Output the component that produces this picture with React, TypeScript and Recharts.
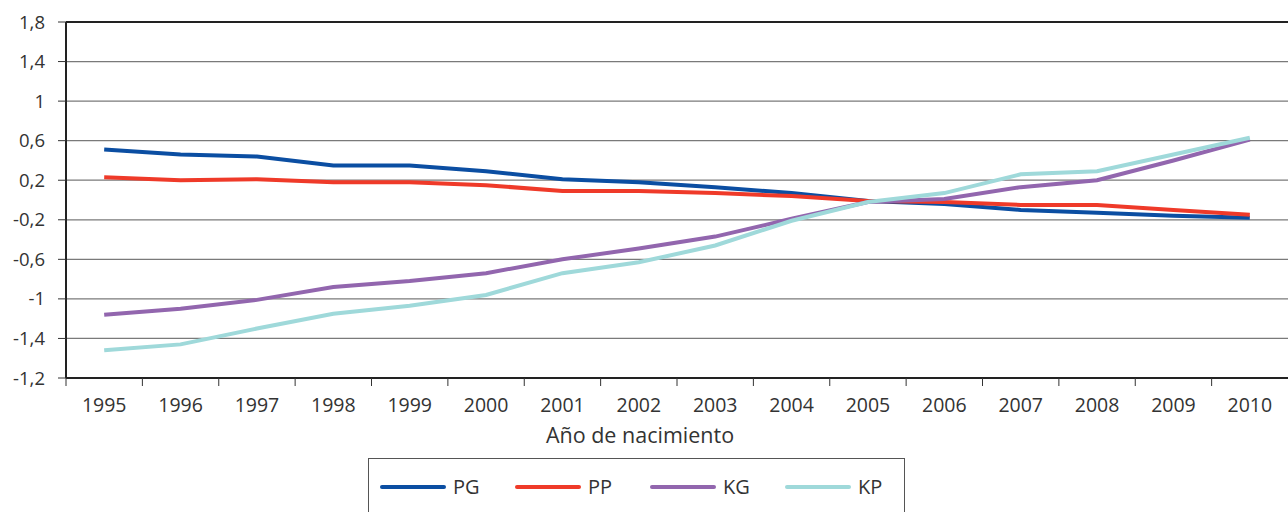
import { LineChart, Line, XAxis, YAxis, CartesianGrid, ReferenceLine } from 'recharts'

const YEARS = [1995, 1996, 1997, 1998, 1999, 2000, 2001, 2002, 2003, 2004, 2005, 2006, 2007, 2008, 2009, 2010]

const PG = [0.51, 0.46, 0.44, 0.35, 0.35, 0.29, 0.21, 0.18, 0.13, 0.07, -0.01, -0.04, -0.1, -0.13, -0.16, -0.18]
const PP = [0.23, 0.2, 0.21, 0.18, 0.18, 0.15, 0.09, 0.09, 0.07, 0.04, -0.01, -0.02, -0.05, -0.05, -0.1, -0.15]
const KG = [-1.16, -1.1, -1.01, -0.88, -0.82, -0.74, -0.6, -0.49, -0.37, -0.19, -0.02, 0.01, 0.13, 0.2, 0.4, 0.61]
const KP = [-1.52, -1.46, -1.3, -1.15, -1.07, -0.96, -0.74, -0.63, -0.46, -0.21, -0.02, 0.07, 0.26, 0.29, 0.46, 0.63]

const Y_TICKS = [1.8, 1.4, 1, 0.6, 0.2, -0.2, -0.6, -1, -1.4, -1.8]
const Y_LABELS = ['1,8', '1,4', '1', '0,6', '0,2', '-0,2', '-0,6', '-1', '-1,4', '-1,2']

const SERIES = [
  { key: 'PG', values: PG, color: '#0b4ea2' },
  { key: 'PP', values: PP, color: '#ef3a29' },
  { key: 'KG', values: KG, color: '#9266ae' },
  { key: 'KP', values: KP, color: '#9fd9da' },
]

const data = YEARS.map((year, i) => {
  const row: Record<string, number> = { year }
  SERIES.forEach(s => { row[s.key] = s.values[i] })
  return row
})

// labels on the years, tick marks on the boundaries between them
const X_TICKS = YEARS.flatMap(y => [y - 0.5, y])

const FONT = '"Open Sans", "Noto Sans", sans-serif'
const TEXT = '#333333'

function XTick(props: any) {
  const { x, y, payload } = props
  const v = payload.value
  if (Number.isInteger(v)) {
    return (
      <text x={x} y={y + 34} textAnchor="middle" fontSize={19.5} fill={TEXT} fontFamily={FONT}>
        {v}
      </text>
    )
  }
  return <line x1={x} y1={y} x2={x} y2={y + 8} stroke="#333" strokeWidth={1} />
}

export default function App() {
  return (
    <div style={{ position: 'relative', width: 1288, height: 512, overflow: 'hidden', fontFamily: FONT }}>
      <style>{'body { margin: 0; }'}</style>
      <LineChart width={1288} height={512} data={data} margin={{ top: 22, right: 0, left: 0, bottom: 74 }}>
        <CartesianGrid vertical={false} stroke="#7a7a7a" strokeWidth={1.2} />
        <ReferenceLine y={1.8} stroke="#222" strokeWidth={2} />
        <XAxis
          dataKey="year"
          type="number"
          domain={[1994.5, 2010.5]}
          ticks={X_TICKS}
          interval={0}
          tick={(p: any) => <XTick {...p} />}
          tickLine={false}
          tickSize={0}
          tickMargin={0}
          height={60}
          axisLine={{ stroke: '#222', strokeWidth: 2 }}
        />
        <YAxis
          type="number"
          domain={[-1.8, 1.8]}
          ticks={Y_TICKS}
          interval={0}
          width={66}
          tickSize={8}
          tickMargin={13}
          tickFormatter={(v: number) => Y_LABELS[Y_TICKS.indexOf(v)]}
          tick={{ fontSize: 18.5, fill: TEXT, fontFamily: FONT }}
          tickLine={{ stroke: '#333' }}
          axisLine={{ stroke: '#222', strokeWidth: 2 }}
        />
        {SERIES.map(s => (
          <Line
            key={s.key}
            dataKey={s.key}
            type="linear"
            stroke={s.color}
            strokeWidth={4}
            dot={false}
            activeDot={false}
            isAnimationActive={false}
          />
        ))}
      </LineChart>

      <div style={{ position: 'absolute', left: 0, top: 420, width: 1280, textAlign: 'center', fontSize: 21.5, color: TEXT }}>
        Año de nacimiento
      </div>

      <div
        style={{
          position: 'absolute', left: 368, top: 458, width: 537, height: 70,
          border: '1px solid #555', boxSizing: 'border-box',
        }}
      >
        {SERIES.map((s, i) => (
          <div
            key={s.key}
            style={{ position: 'absolute', left: 11 + i * 135, top: 14, display: 'flex', alignItems: 'center', gap: 7 }}
          >
            <div style={{ width: 66, height: 4, borderRadius: 2, background: s.color }} />
            <span style={{ fontSize: 20, color: TEXT }}>{s.key}</span>
          </div>
        ))}
      </div>
    </div>
  )
}
